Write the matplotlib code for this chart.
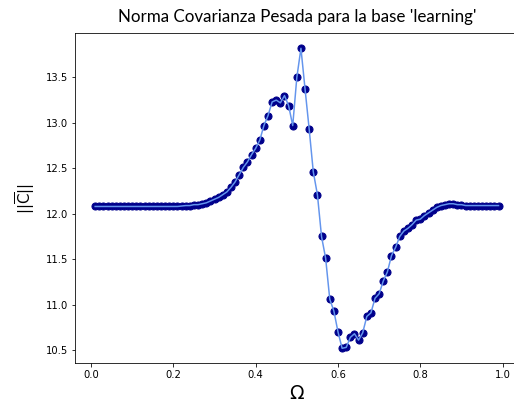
import matplotlib
matplotlib.use("Agg")
import matplotlib.pyplot as plt
import numpy as np

# Omega values (0.01 .. 0.99)
omega = [round(0.01 * i, 2) for i in range(1, 100)]

# norm of weighted covariance
norma = [
    # 0.01 - 0.21 flat
    12.08, 12.08, 12.08, 12.08, 12.08, 12.08, 12.08, 12.08, 12.08, 12.08,
    12.08, 12.08, 12.08, 12.08, 12.08, 12.08, 12.08, 12.08, 12.08, 12.08,
    12.08,
    # 0.22 - 0.33
    12.085, 12.09, 12.09, 12.10, 12.10, 12.11, 12.12, 12.14, 12.16, 12.18,
    12.21, 12.24,
    # 0.34 - 0.43
    12.29, 12.35, 12.43, 12.51, 12.57, 12.65, 12.72, 12.81, 12.97, 13.08,
    # 0.44 - 0.53
    13.23, 13.25, 13.22, 13.30, 13.19, 12.97, 13.50, 13.82, 13.37, 12.93,
    # 0.54 - 0.63
    12.46, 12.21, 11.75, 11.51, 11.06, 10.93, 10.70, 10.52, 10.53, 10.64,
    # 0.64 - 0.73
    10.68, 10.61, 10.69, 10.87, 10.91, 11.07, 11.12, 11.26, 11.36, 11.54,
    # 0.74 - 0.83
    11.63, 11.75, 11.81, 11.84, 11.88, 11.93, 11.94, 11.98, 12.01, 12.04,
    # 0.84 - 0.93
    12.07, 12.09, 12.10, 12.11, 12.11, 12.10, 12.10, 12.09, 12.09, 12.09,
    # 0.94 - 0.99
    12.09, 12.09, 12.09, 12.09, 12.09, 12.09,
]

fig = plt.figure(figsize=(514 / 72, 406 / 72), dpi=72)
ax = fig.add_axes([0.1459, 0.1052, 0.8632, 0.8128])

ax.scatter(omega, norma, color='darkblue', s=50, zorder=2)
ax.plot(omega, norma, color='cornflowerblue', linewidth=1.5, zorder=3)

ax.set_title("Norma Covarianza Pesada para la base 'learning'",
             fontfamily='Lato', fontsize=17, pad=11)
ax.set_xlabel(r'$\Omega$', fontsize=19)
ax.set_ylabel(r'$||\overline{\mathrm{C}}||$', fontsize=15, labelpad=9)
ax.tick_params(labelsize=10)
# right edge of the axes falls outside the cropped picture
ax.spines['right'].set_visible(False)

ax.set_xticks([0.0, 0.2, 0.4, 0.6, 0.8, 1.0])
ax.set_yticks([10.5, 11.0, 11.5, 12.0, 12.5, 13.0, 13.5])

plt.savefig('out.png', dpi=72)
